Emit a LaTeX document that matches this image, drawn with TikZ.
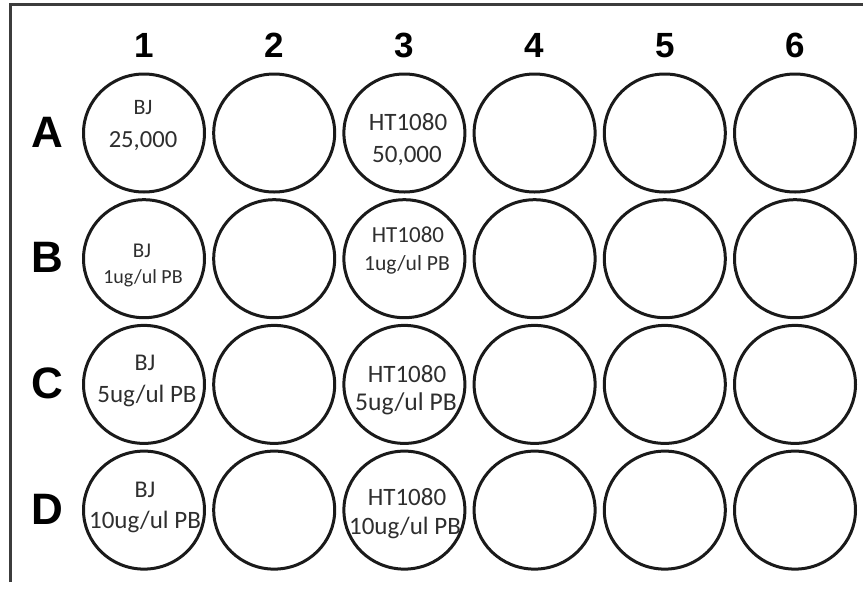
\documentclass[tikz,border=0pt]{standalone}
\usepackage{fontspec}
\setmainfont{Carlito}
\newfontfamily\headfont{Liberation Sans}
\usetikzlibrary{shapes.geometric}
\definecolor{platepen}{HTML}{1A1A1A}
\definecolor{welltext}{HTML}{2E2E2E}
\newcommand{\fs}[1]{\fontsize{#1}{#1}\selectfont}

\begin{document}
\begin{tikzpicture}[x=0.5pt,y=-0.5pt,
 well/.style={draw=platepen,ellipse,line width=1.5pt,inner sep=0pt,
 minimum width=60.5pt,minimum height=59pt},
 colhead/.style={anchor=base,font=\headfont\bfseries\fs{17.5pt}},
 rowhead/.style={anchor=base,font=\headfont\bfseries\fs{22pt}},
 txt/.style={anchor=base,text=welltext,inner sep=0pt}]
 \useasboundingbox (0,0) rectangle (863,590);
 % plate outline
 \draw[platepen!85,line width=1.5pt] (10,582)--(10,4.5)--(863,4.5);
 % wells
 \foreach \r [count=\i] in {A,B,C,D}{
  \node[rowhead] (row\r) at (47,{147+125.7*(\i-1)}) {\r};
  \foreach \c in {1,...,6}
   \node[well] (w\r\c) at ({144+130.2*(\c-1)},{133+125.7*(\i-1)}) {};
 }
 \foreach \c in {1,...,6}
  \node[colhead] (col\c) at ({144+130.2*(\c-1)},57) {\c};
 % column 1: BJ
 \node[txt,font=\fs{11pt}] (nA1) at (143,114) {BJ};
 \node[txt,font=\fs{12.3pt}] (aA1) at (143,147) {25,000};
 \node[txt,font=\fs{10.5pt}] (nB1) at (142,257) {BJ};
 \node[txt,font=\fs{10pt}] (aB1) at (143,283) {1ug/ul PB};
 \node[txt,font=\fs{12pt}] (nC1) at (145,370) {BJ};
 \node[txt,font=\fs{12.5pt}] (aC1) at (147,402) {5ug/ul PB};
 \node[txt,font=\fs{12pt}] (nD1) at (145,497) {BJ};
 \node[txt,font=\fs{12.5pt}] (aD1) at (145,528) {10ug/ul PB};
 % column 3: HT1080
 \node[txt,font=\fs{12.5pt}] (nA3) at (408,130) {HT1080};
 \node[txt,font=\fs{12.5pt}] (aA3) at (407,162) {50,000};
 \node[txt,font=\fs{11.5pt}] (nB3) at (408,242) {HT1080};
 \node[txt,font=\fs{10.8pt}] (aB3) at (407,270) {1ug/ul PB};
 \node[txt,font=\fs{12.5pt}] (nC3) at (407,382) {HT1080};
 \node[txt,font=\fs{12.8pt}] (aC3) at (406,410) {5ug/ul PB};
 \node[txt,font=\fs{12.5pt}] (nD3) at (407,505) {HT1080};
 \node[txt,font=\fs{12.5pt}] (aD3) at (405,534) {10ug/ul PB};
\end{tikzpicture}
\end{document}
